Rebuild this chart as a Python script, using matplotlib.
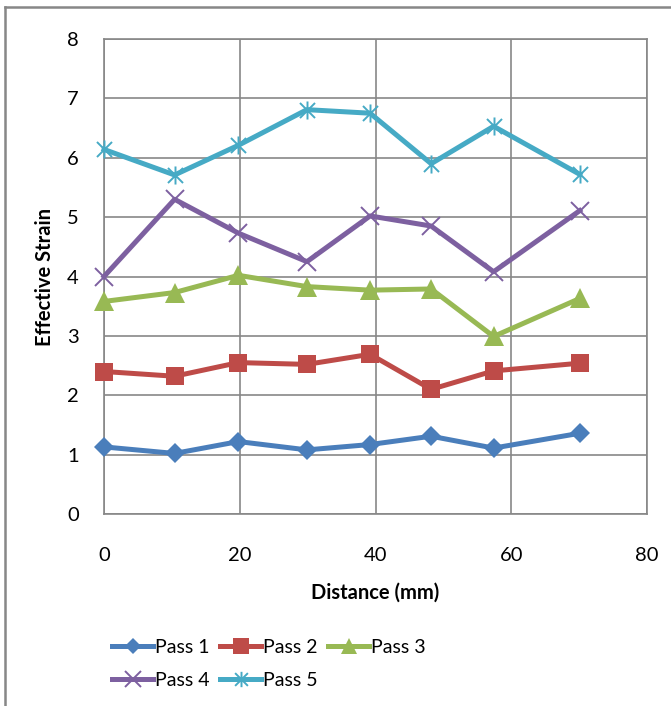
import matplotlib
matplotlib.use("Agg")
import matplotlib.pyplot as plt
from matplotlib.path import Path
from matplotlib.lines import Line2D

# ── Data ──
distance = [0, 10.4, 19.8, 29.9, 39.2, 48.2, 57.4, 70.1]
pass1 = [1.13, 1.02, 1.22, 1.08, 1.17, 1.31, 1.11, 1.36]
pass2 = [2.40, 2.32, 2.55, 2.52, 2.69, 2.10, 2.41, 2.54]
pass3 = [3.58, 3.73, 4.02, 3.83, 3.77, 3.79, 2.99, 3.63]
pass4 = [4.00, 5.30, 4.73, 4.25, 5.02, 4.85, 4.08, 5.11]
pass5 = [6.14, 5.71, 6.21, 6.81, 6.75, 5.90, 6.53, 5.72]
labels = ["Pass 1", "Pass 2", "Pass 3", "Pass 4", "Pass 5"]

# Excel-style asterisk: X plus vertical bar
star = Path([(-1, -1), (1, 1), (-1, 1), (1, -1), (0, -1.2), (0, 1.2)],
            [Path.MOVETO, Path.LINETO, Path.MOVETO, Path.LINETO, Path.MOVETO, Path.LINETO])

styles = [
    dict(color="#4A7EBB", marker="D", ms=10, mew=0),
    dict(color="#BE4B48", marker="s", ms=13, mew=0),
    dict(color="#98B954", marker="^", ms=14, mew=0),
    dict(color="#7D60A0", marker="x", ms=13, mew=1.4),
    dict(color="#46AAC5", marker=star, ms=13, mew=1.4),
]

plt.rcParams["font.family"] = ["Lato", "DejaVu Sans"]
grid_c = "#878787"
fs = 14.5

fig = plt.figure(figsize=(6.71, 7.06), dpi=100)
ax = fig.add_axes([104 / 671, 1 - 514 / 706, (647 - 104) / 671, (514 - 39) / 706])

handles = []
for ys, lab, st in zip([pass1, pass2, pass3, pass4, pass5], labels, styles):
    h, = ax.plot(distance, ys, lw=3.6, label=lab, solid_joinstyle="round",
                 color=st["color"], marker=st["marker"], markersize=st["ms"],
                 markeredgewidth=st["mew"], markeredgecolor=st["color"],
                 markerfacecolor=st["color"], clip_on=False, zorder=3)
    handles.append(h)

ax.set_xlim(0, 80)
ax.set_ylim(0, 8)
ax.set_xticks([0, 20, 40, 60, 80])
ax.set_yticks(range(0, 9))
ax.grid(True, color=grid_c, lw=1.2)
ax.set_axisbelow(True)
for s in ax.spines.values():
    s.set_color(grid_c)
    s.set_linewidth(1.2)
ax.tick_params(length=0, labelsize=fs)
ax.tick_params(axis="x", pad=24)
ax.tick_params(axis="y", pad=18)

ax.set_xlabel("Distance (mm)", fontsize=fs, fontweight="bold", labelpad=13)
ax.set_ylabel("Effective Strain", fontsize=fs, fontweight="bold", labelpad=9)

# row-major order like Excel
order = [0, 3, 1, 4, 2]
leg = fig.legend([handles[i] for i in order], [labels[i] for i in order],
                 ncol=3, loc="center", bbox_to_anchor=(269 / 671, 1 - 664 / 706),
                 frameon=False, fontsize=14, handlelength=2.1, handletextpad=0.1,
                 columnspacing=0.55, labelspacing=0.8)
for lh in leg.legend_handles:
    lh.set_markersize(lh.get_markersize() * 0.85)

# outer chart-area border (cropped on right/bottom)
fig.add_artist(Line2D([5 / 671, 5 / 671], [0, 1 - 7 / 706], color=grid_c, lw=1.8,
                      transform=fig.transFigure))
fig.add_artist(Line2D([5 / 671, 1], [1 - 7 / 706, 1 - 7 / 706], color=grid_c, lw=1.8,
                      transform=fig.transFigure))

fig.savefig("out.png", dpi=100)
